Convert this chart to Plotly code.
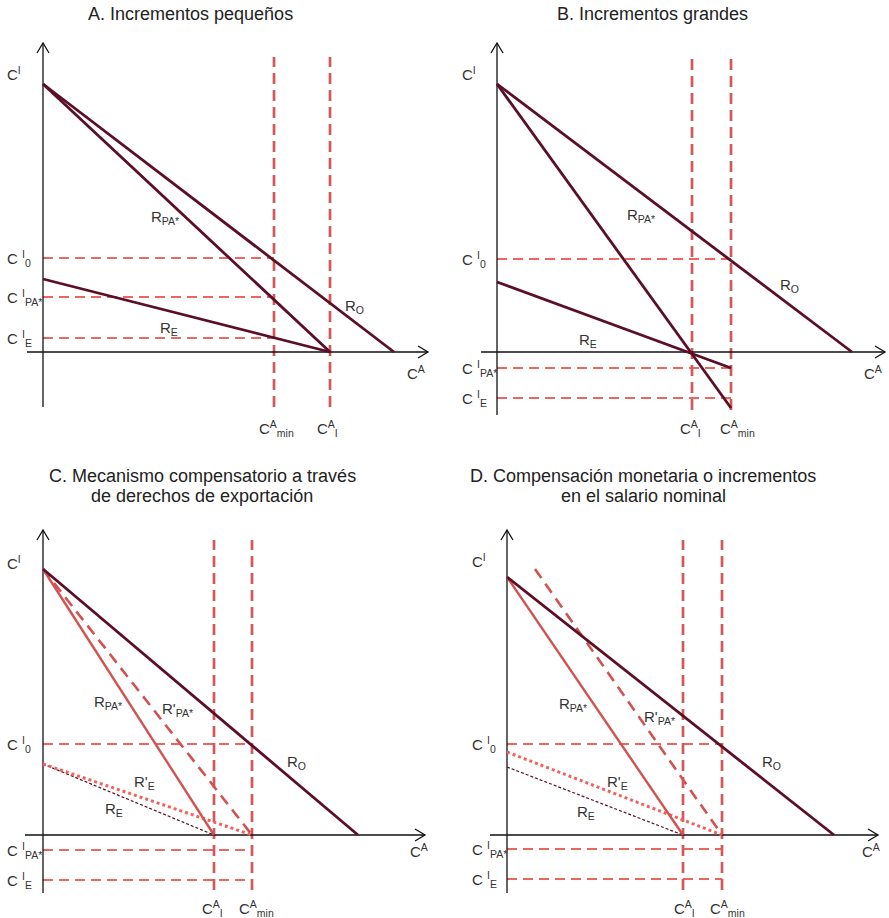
import plotly.graph_objects as go

W, H = 889, 918

# ---------------- values (C^A to the right, C^I upwards; origin where the axes cross) ----------------
# A. Incrementos pequeños
A_RO = ([0, 351], [268, 0])
A_RPA = ([0, 287], [268, 0])
A_RE = ([0, 287], [73, 0])
A_CA_MIN, A_CA_I = 231, 287
A_CI = [94, 55, 14]            # C^I_0, C^I_PA*, C^I_E

# B. Incrementos grandes
B_RO = ([0, 355], [268, 0])
B_RPA = ([0, 234], [268, -56])
B_RE = ([0, 234], [70, -16])
B_CA_I, B_CA_MIN = 195, 234
B_CI = [93, -16, -46]

# C. Mecanismo compensatorio a través de derechos de exportación
C_RO = ([0, 315], [266, 0])
C_RPA = ([0, 171], [266, 0])
C_RPA2 = ([0, 209], [266, 0])   # R'_PA*
C_RE = ([0, 171], [71, 0])
C_RE2 = ([0, 209], [71, 0])     # R'_E
C_CA_I, C_CA_MIN = 171, 209
C_CI = [91, -15, -45]

# D. Compensación monetaria o incrementos en el salario nominal
D_RO = ([0, 327], [258, 0])
D_RPA = ([0, 176], [258, 0])
D_RPA2 = ([28, 215], [266, 0])
D_RE = ([0, 176], [68, 0])
D_RE2 = ([0, 215], [83, 0])
D_CA_I, D_CA_MIN = 176, 215
D_CI = [91, -14, -44]

# ---------------- styles ----------------
MAROON = "#5b0f26"
RED_SOLID = "#d25252"
VDASH = "#d2585a"
HDASH = "#ef6460"
DOT_RED = "#f0625e"
TXT = "#333333"
FONT = "Liberation Sans, Arial, sans-serif"

fig = go.Figure()

# panel boxes in page pixels: (left, top, right, bottom) and origin pixel
PANELS = [
    dict(box=(0, 0, 444, 459), origin=(43, 352)),
    dict(box=(445, 0, 889, 459), origin=(497, 352)),
    dict(box=(0, 459, 444, 918), origin=(43, 835)),
    dict(box=(445, 459, 889, 918), origin=(507, 835)),
]

layout_axes = {}
for i, p in enumerate(PANELS):
    l, t, r, b = p["box"]
    ox, oy = p["origin"]
    sfx = "" if i == 0 else str(i + 1)
    layout_axes["xaxis" + sfx] = dict(domain=[l / W, r / W], range=[l - ox, r - ox], visible=False,
                                       anchor="y" + sfx, fixedrange=True)
    layout_axes["yaxis" + sfx] = dict(domain=[1 - b / H, 1 - t / H], range=[oy - b, oy - t], visible=False,
                                       anchor="x" + sfx, fixedrange=True)
    p["ax"] = ("x" + sfx, "y" + sfx)


def line(ax, xs, ys, color, width, dash="solid"):
    fig.add_trace(go.Scatter(x=xs, y=ys, mode="lines", xaxis=ax[0], yaxis=ax[1],
                             line=dict(color=color, width=width, dash=dash),
                             hoverinfo="skip", showlegend=False))


def axes_pair(ax, xspan, yspan):
    # C^A and C^I axes with open arrow heads
    line(ax, xspan, [0, 0], "#111111", 1.3)
    line(ax, [0, 0], yspan, "#111111", 1.3)
    xt, yt = xspan[1], yspan[1]
    line(ax, [xt - 10, xt, xt - 10], [6, 0, -6], "#111111", 1.3)
    line(ax, [-6, 0, 6], [yt - 10, yt, yt - 10], "#111111", 1.3)


def guides(ax, ca_vals, ci_vals, x_end, vspan):
    for ci in ci_vals:
        line(ax, [0, x_end], [ci, ci], HDASH, 2.2, "10px,6px")
    for ca in ca_vals:
        line(ax, [ca, ca], vspan, VDASH, 2.7, "11px,6px")


def label(ax, x, y, text, size=15, yshift=0):
    fig.add_annotation(x=x, y=y, xref=ax[0], yref=ax[1], text=text, showarrow=False, yshift=yshift,
                       xanchor="left", yanchor="middle", font=dict(family=FONT, size=size, color=TXT))


def curve_label(ax, x, y, text):
    label(ax, x, y, text, yshift=-2)


CI_TOP = "C<sup>I</sup>"
CI0 = "C&nbsp;<sup>I</sup><sub>0</sub>"
CIPA = "C&nbsp;<sup>I</sup><sub>PA*</sub>"
CIE = "C&nbsp;<sup>I</sup><sub>E</sub>"
CAMIN = "C<sup>A</sup><sub>min</sub>"
CAI = "C<sup>A</sup><sub>I</sub>"
CA = "C<sup>A</sup>"

# ---- A ----
ax = PANELS[0]["ax"]
guides(ax, [A_CA_MIN, A_CA_I], A_CI, A_CA_MIN, [-55, 295])
axes_pair(ax, [-16, 385], [-55, 309])
line(ax, *A_RO, MAROON, 2.8)
line(ax, *A_RPA, MAROON, 2.8)
line(ax, *A_RE, MAROON, 2.8)
label(ax, -38, 279, CI_TOP)
label(ax, -38, A_CI[0], CI0)
label(ax, -38, A_CI[1], CIPA)
label(ax, -38, A_CI[2], CIE)
label(ax, 214, -76, CAMIN)
label(ax, 272, -76, CAI)
label(ax, 362, -20, CA)
curve_label(ax, 106, 137, "R<sub>PA*</sub>")
curve_label(ax, 300, 48, "R<sub>O</sub>")
curve_label(ax, 115, 26, "R<sub>E</sub>")

# ---- B ----
ax = PANELS[1]["ax"]
guides(ax, [B_CA_I, B_CA_MIN], B_CI, B_CA_MIN, [-58, 295])
axes_pair(ax, [-16, 388], [-63, 309])
line(ax, *B_RO, MAROON, 2.8)
line(ax, *B_RPA, MAROON, 2.8)
line(ax, *B_RE, MAROON, 2.8)
label(ax, -37, 279, CI_TOP)
label(ax, -37, B_CI[0], CI0)
label(ax, -37, B_CI[1], CIPA)
label(ax, -37, B_CI[2], CIE)
label(ax, 181, -76, CAI)
label(ax, 221, -76, CAMIN)
label(ax, 365, -20, CA)
curve_label(ax, 128, 139, "R<sub>PA*</sub>")
curve_label(ax, 281, 69, "R<sub>O</sub>")
curve_label(ax, 80, 14, "R<sub>E</sub>")

# ---- C ----
ax = PANELS[2]["ax"]
guides(ax, [C_CA_I, C_CA_MIN], C_CI, C_CA_MIN, [-55, 295])
axes_pair(ax, [-18, 382], [-58, 305])
line(ax, *C_RE, MAROON, 1.2, "3px,2px")
line(ax, *C_RE2, DOT_RED, 3, "3px,3px")
line(ax, *C_RPA2, RED_SOLID, 2.6, "11px,7px")
line(ax, *C_RPA, RED_SOLID, 2.4)
line(ax, *C_RO, MAROON, 2.8)
label(ax, -38, 273, CI_TOP)
label(ax, -38, C_CI[0], CI0)
label(ax, -38, C_CI[1], CIPA)
label(ax, -38, C_CI[2], CIE)
label(ax, 157, -73, CAI)
label(ax, 194, -73, CAMIN)
label(ax, 365, -15, CA)
curve_label(ax, 49, 135, "R<sub>PA*</sub>")
curve_label(ax, 117, 128, "R'<sub>PA*</sub>")
curve_label(ax, 242, 75, "R<sub>O</sub>")
curve_label(ax, 89, 55, "R'<sub>E</sub>")
curve_label(ax, 60, 28, "R<sub>E</sub>")

# ---- D ----
ax = PANELS[3]["ax"]
guides(ax, [D_CA_I, D_CA_MIN], D_CI, D_CA_MIN, [-55, 295])
axes_pair(ax, [-17, 371], [-58, 305])
line(ax, *D_RE, MAROON, 1.2, "3px,2px")
line(ax, *D_RE2, DOT_RED, 3, "3px,3px")
line(ax, *D_RPA2, RED_SOLID, 2.6, "11px,7px")
line(ax, *D_RPA, RED_SOLID, 2.4)
line(ax, *D_RO, MAROON, 2.8)
label(ax, -37, 275, CI_TOP)
label(ax, -37, D_CI[0], CI0)
label(ax, -37, D_CI[1], CIPA)
label(ax, -37, D_CI[2], CIE)
label(ax, 165, -73, CAI)
label(ax, 201, -73, CAMIN)
label(ax, 353, -15, CA)
curve_label(ax, 50, 133, "R<sub>PA*</sub>")
curve_label(ax, 135, 120, "R'<sub>PA*</sub>")
curve_label(ax, 253, 75, "R<sub>O</sub>")
curve_label(ax, 98, 55, "R'<sub>E</sub>")
curve_label(ax, 68, 25, "R<sub>E</sub>")

# ---- panel titles (one annotation per line) ----
TITLES = [
    (190, 14, "A. Incrementos pequeños"),
    (652, 14, "B. Incrementos grandes"),
    (202, 476, "C. Mecanismo compensatorio a través"),
    (202, 496, "de derechos de exportación"),
    (643, 476, "D. Compensación monetaria o incrementos"),
    (643, 496, "en el salario nominal"),
]
for cx, cy, txt in TITLES:
    fig.add_annotation(x=cx / W, y=1 - cy / H, xref="paper", yref="paper", text=txt, showarrow=False,
                       xanchor="center", yanchor="middle", align="center",
                       font=dict(family=FONT, size=18, color="#222222"))

fig.update_layout(width=W, height=H, margin=dict(l=0, r=0, t=0, b=0),
                  paper_bgcolor="white", plot_bgcolor="white", showlegend=False, **layout_axes)

fig.write_html("out.html", config={"displayModeBar": False})
